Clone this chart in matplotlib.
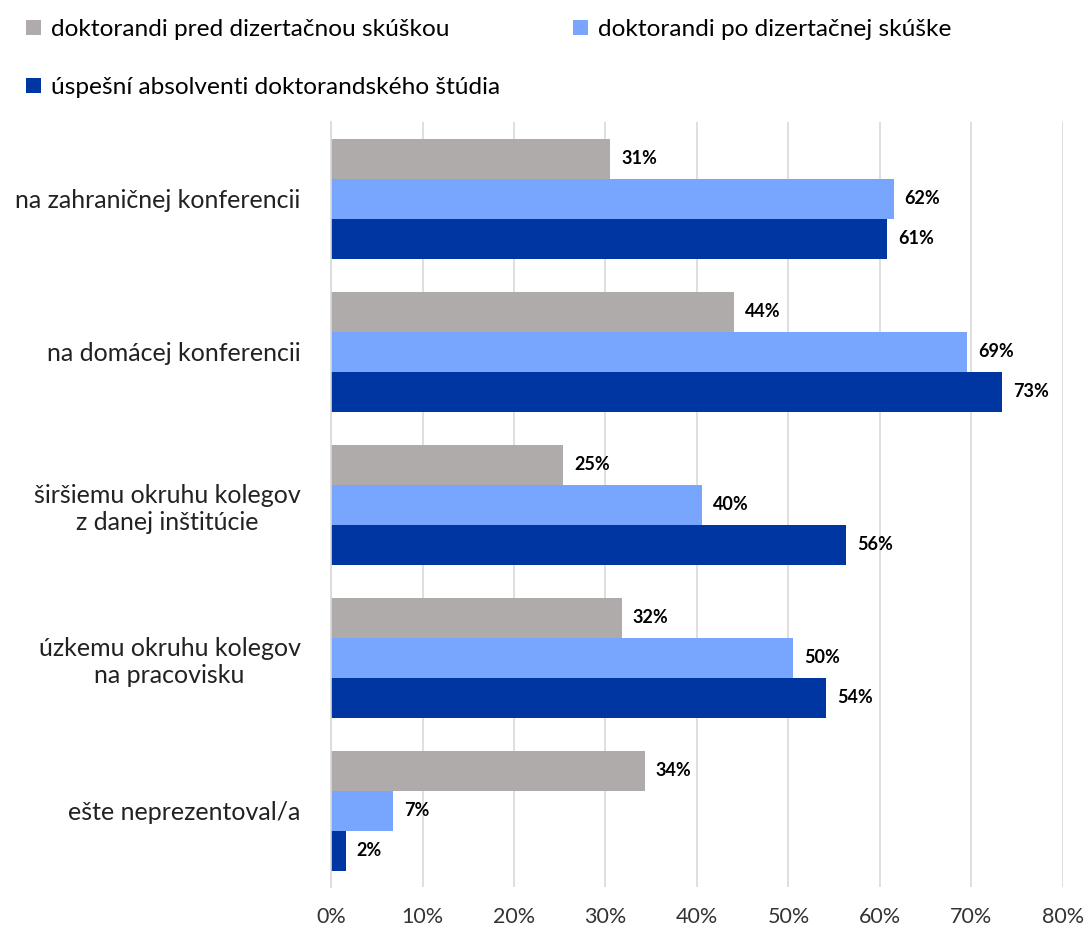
import numpy as np
import matplotlib.pyplot as plt
from matplotlib.ticker import FuncFormatter

plt.rcParams['font.family'] = ['Lato', 'DejaVu Sans']

categories = ['na zahraničnej konferencii', 'na domácej konferencii',
              'širšiemu okruhu kolegov\nz danej inštitúcie',
              'úzkemu okruhu kolegov\nna pracovisku', 'ešte neprezentoval/a']
series_names = ['doktorandi pred dizertačnou skúškou',
                'doktorandi po dizertačnej skúške',
                'úspešní absolventi doktorandského štúdia']
pred = [30.5, 44.0, 25.4, 31.8, 34.3]
po = [61.5, 69.5, 40.5, 50.5, 6.8]
absolventi = [60.8, 73.4, 56.3, 54.1, 1.6]
labels_pred = ['31%', '44%', '25%', '32%', '34%']
labels_po = ['62%', '69%', '40%', '50%', '7%']
labels_abs = ['61%', '73%', '56%', '54%', '2%']
colors = ['#AEABAA', '#78A6FE', '#0036A2']

fig = plt.figure(figsize=(10.89, 9.27), dpi=100)
ax = fig.add_axes([0.304, 0.043, 0.672, 0.825])

y = np.arange(len(categories))
h = 0.262
bars = []
for i, (vals, labs) in enumerate([(pred, labels_pred), (po, labels_po), (absolventi, labels_abs)]):
    b = ax.barh(y + (i - 1) * h, vals, height=h, color=colors[i],
                label=series_names[i], zorder=2)
    bars.append(b)
    for yy, v, t in zip(y + (i - 1) * h, vals, labs):
        ax.text(v + 1.2, yy, t, va='center', ha='left', fontsize=13,
                fontweight='bold', color='#000000')

ax.set_ylim(len(categories) - 0.5, -0.5)
ax.set_xlim(0, 80)
ax.set_xticks(np.arange(0, 81, 10))
ax.xaxis.set_major_formatter(FuncFormatter(lambda v, p: f'{v:.0f}%'))
ax.set_yticks(y)
ax.set_yticklabels(categories, fontsize=18, color='#222222')
for t in ax.get_yticklabels():
    t.set_multialignment('center')
ax.tick_params(axis='x', labelsize=15.5, colors='#333333', length=0, pad=14)
ax.tick_params(axis='y', length=0, pad=22)
ax.grid(axis='x', color='#D9D9D9', linewidth=1.2, zorder=0)
for s in ['top', 'right', 'bottom']:
    ax.spines[s].set_visible(False)
ax.spines['left'].set_color('#D9D9D9')
ax.spines['left'].set_linewidth(1.2)

handles = [bars[0], bars[2], bars[1]]
labels = [series_names[0], series_names[2], series_names[1]]
fig.legend(handles, labels, loc='upper left', bbox_to_anchor=(0.004, 1.003),
           ncol=2, frameon=False, fontsize=17.6, handlelength=0.6,
           handleheight=0.6, handletextpad=0.4, columnspacing=3.0,
           labelspacing=1.5)

fig.savefig('out.png', dpi=100)
